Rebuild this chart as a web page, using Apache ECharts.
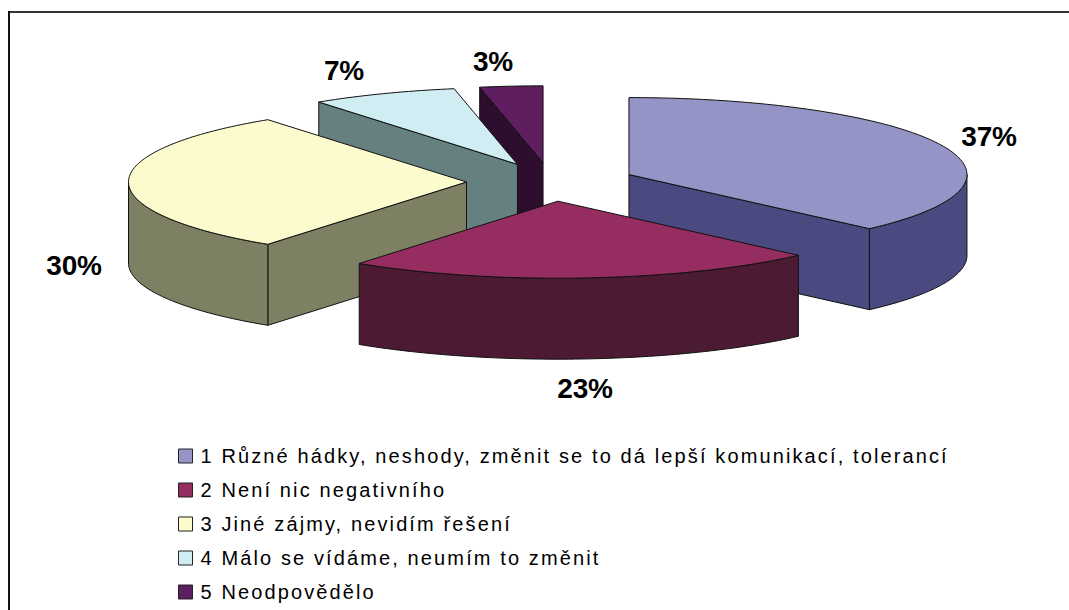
<!DOCTYPE html>
<html>
<head>
<meta charset="utf-8">
<style>
html,body{margin:0;padding:0;background:#fff;}
#chart{width:1069px;height:610px;}
#chart svg text[style*="20px"]{letter-spacing:2.12px;}
#chart svg text[style*="bold"]{letter-spacing:-0.2px;}
</style>
<script src="https://cdn.jsdelivr.net/npm/echarts@6/dist/echarts.min.js"></script>
</head>
<body>
<div id="chart"></div>
<script>
const categories = [
  '1 Různé hádky, neshody, změnit se to dá lepší komunikací, tolerancí',
  '2 Není nic negativního',
  '3 Jiné zájmy, nevidím řešení',
  '4 Málo se vídáme, neumím to změnit',
  '5 Neodpovědělo'
];
const values = [37.4, 22.6, 30, 7, 3];
const percentLabels = ['37%', '23%', '30%', '7%', '3%'];
const topColors = ['#9494C6', '#952D60', '#FCFBCE', '#CFEDF3', '#5F1E60'];
const sideColors = ['#4A4A80', '#4C1A33', '#7E8064', '#66807F', '#2E0E2F'];

const pie = {cx: 551, cy: 182, rx: 338, ry: 77, depth: 81, explode: 0.25};
const labelCenters = [[989, 136], [585, 388], [74, 265], [344, 70], [493, 61]];
const paintOrder = [4, 3, 2, 0, 1];

const total = values.reduce((a, b) => a + b, 0);
const turn = t => t / total * 2 * Math.PI;

function sliceGeometry(i) {
  const before = values.slice(0, i).reduce((a, b) => a + b, 0);
  const t0 = turn(before), t1 = turn(before + values[i]), tm = (t0 + t1) / 2;
  const ax = pie.cx + pie.explode * pie.rx * Math.sin(tm);
  const ay = pie.cy - pie.explode * pie.ry * Math.cos(tm);
  const rim = t => [ax + pie.rx * Math.sin(t), ay - pie.ry * Math.cos(t)];
  return {t0, t1, ax, ay, rim};
}

function renderSlice(i, params, api) {
  const g = sliceGeometry(i);
  const d = pie.depth;
  const top = topColors[i], side = sideColors[i];
  const style = fill => ({fill, stroke: '#111', lineWidth: 1, lineJoin: 'round'});
  const poly = (points, fill) => ({type: 'polygon', shape: {points}, style: style(fill)});
  const down = p => [p[0], p[1] + d];
  const apex = [g.ax, g.ay];
  const children = [];

  // radial walls that face the viewer
  if (g.t0 > Math.PI && g.t0 < 2 * Math.PI) {
    const p = g.rim(g.t0);
    children.push(poly([p, apex, down(apex), down(p)], side));
  }
  if (g.t1 > 0 && g.t1 < Math.PI) {
    const p = g.rim(g.t1);
    children.push(poly([apex, p, down(p), down(apex)], side));
  }
  // curved outer wall (front half of the rim only)
  const a = Math.max(g.t0, Math.PI / 2), b = Math.min(g.t1, 3 * Math.PI / 2);
  if (b > a) {
    const arc = [];
    const n = Math.ceil((b - a) / 0.02);
    for (let k = 0; k <= n; k++) arc.push(g.rim(a + (b - a) * k / n));
    children.push(poly(arc.concat(arc.slice().reverse().map(down)), side));
  }
  // top face
  const pts = [apex];
  const n = Math.ceil((g.t1 - g.t0) / 0.02);
  for (let k = 0; k <= n; k++) pts.push(g.rim(g.t0 + (g.t1 - g.t0) * k / n));
  children.push(poly(pts, top));
  // percentage label
  children.push({
    type: 'text', z2: 50,
    style: {
      text: percentLabels[i],
      x: labelCenters[i][0], y: labelCenters[i][1],
      align: 'center', verticalAlign: 'middle',
      fill: '#000', font: 'bold 28px "Liberation Sans", Arial, sans-serif'
    }
  });
  return {type: 'group', children};
}

const series = paintOrder.map((i, order) => ({
  type: 'custom',
  name: categories[i],
  coordinateSystem: 'none',
  silent: true,
  animation: false,
  z: 2 + order,
  itemStyle: {color: topColors[i]},
  data: [[values[i]]],
  renderItem: (params, api) => renderSlice(i, params, api)
}));

const chart = echarts.init(document.getElementById('chart'), null, {renderer: 'svg'});
chart.setOption({
  backgroundColor: '#fff',
  animation: false,
  legend: {
    orient: 'vertical',
    left: 173, top: 441,
    padding: 5,
    itemWidth: 14, itemHeight: 14, itemGap: 14,
    icon: 'rect',
    selectedMode: false,
    data: categories,
    itemStyle: {borderColor: '#222', borderWidth: 1},
    textStyle: {
      color: '#000', fontSize: 20, padding: [0, 0, 0, 3],
      fontFamily: '"Liberation Sans", Arial, sans-serif'
    }
  },
  graphic: [
    {type: 'line', shape: {x1: 8, y1: 12, x2: 1069, y2: 12}, style: {stroke: '#333', lineWidth: 2}},
    {type: 'line', shape: {x1: 9, y1: 11, x2: 9, y2: 610}, style: {stroke: '#111', lineWidth: 2}}
  ],
  series
});
</script>
</body>
</html>
